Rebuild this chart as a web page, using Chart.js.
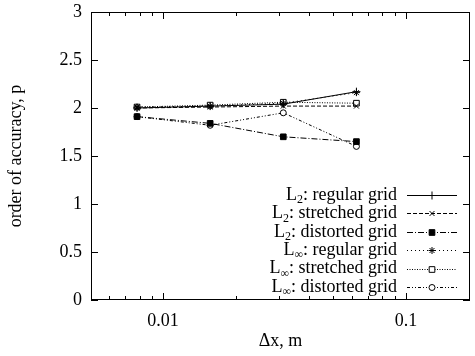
<!DOCTYPE html>
<html>
<head>
<meta charset="utf-8">
<script src="https://cdn.jsdelivr.net/npm/chart.js@4.4.1/dist/chart.umd.min.js"></script>
<style>
  html, body { margin: 0; padding: 0; background: #fff; }
  #wrap { width: 475px; height: 356px; }
</style>
</head>
<body>
<div id="wrap"><canvas id="c"></canvas></div>
<script>
const dx = [0.0078125, 0.015625, 0.03125, 0.0625]

const l2Regular    = [2.00, 2.02, 2.04, 2.17]
const l2Stretched  = [2.00, 2.01, 2.02, 2.02]
const l2Distorted  = [1.91, 1.84, 1.70, 1.65]
const lInfRegular  = [2.01, 2.02, 2.05, 2.16]
const lInfStretch  = [2.01, 2.03, 2.06, 2.05]
const lInfDistort  = [1.91, 1.82, 1.95, 1.60]

const xTicks = [0.01, 0.1]
const xMinor = [0.006, 0.007, 0.008, 0.009, 0.02, 0.03, 0.04, 0.05, 0.06, 0.07, 0.08, 0.09]
const yTicks = [0, 0.5, 1, 1.5, 2, 2.5, 3]

const FONT = 'Liberation Serif'

const pts = ys => dx.map((x, i) => ({ x: x, y: ys[i] }))
const noPad = s => { s.paddingLeft = 0; s.paddingRight = 0; s.paddingTop = 0; s.paddingBottom = 0 }

const SERIES = [
  { sub: '2', label: ': regular grid',   data: l2Regular,   dash: [],                 point: 'cross',    fill: '#000', r: 4 },
  { sub: '2', label: ': stretched grid', data: l2Stretched, dash: [4, 2],             point: 'crossRot', fill: '#000', r: 3.5 },
  { sub: '2', label: ': distorted grid', data: l2Distorted, dash: [6, 2, 1, 2],       point: 'rect',     fill: '#000', r: 4 },
  { sub: '∞', label: ': regular grid',   data: lInfRegular, dash: [1, 3],             point: 'star',     fill: '#000', r: 3.5 },
  { sub: '∞', label: ': stretched grid', data: lInfStretch, dash: [1, 1.5],           point: 'rect',     fill: '#fff', r: 4 },
  { sub: '∞', label: ': distorted grid', data: lInfDistort, dash: [3, 2, 1, 2, 1, 2], point: 'circle',   fill: '#fff', r: 3 }
]

// gnuplot style frame + inward ticks
const frameTicks = {
  id: 'frameTicks',
  afterDraw(chart) {
    const { ctx, chartArea: a, scales: { x, y } } = chart
    ctx.save()
    ctx.strokeStyle = '#000'
    ctx.lineWidth = 1
    ctx.strokeRect(a.left + 0.5, a.top + 0.5, a.right - a.left - 1, a.bottom - a.top - 1)
    ctx.beginPath()
    yTicks.forEach(v => {
      const py = Math.round(y.getPixelForValue(v)) + 0.5
      ctx.moveTo(a.left, py); ctx.lineTo(a.left + 7, py)
      ctx.moveTo(a.right, py); ctx.lineTo(a.right - 7, py)
    })
    xTicks.forEach(v => {
      const px = Math.round(x.getPixelForValue(v)) + 0.5
      ctx.moveTo(px, a.bottom); ctx.lineTo(px, a.bottom - 7)
      ctx.moveTo(px, a.top); ctx.lineTo(px, a.top + 7)
    })
    xMinor.forEach(v => {
      const px = Math.round(x.getPixelForValue(v)) + 0.5
      ctx.moveTo(px, a.bottom); ctx.lineTo(px, a.bottom - 4)
      ctx.moveTo(px, a.top); ctx.lineTo(px, a.top + 4)
    })
    ctx.stroke()
    ctx.restore()
  }
}

// legend drawn the way gnuplot does: text right aligned, sample on the right
const keyBox = {
  id: 'keyBox',
  afterDatasetsDraw(chart) {
    const ctx = chart.ctx
    const textRight = 397, x0 = 407, x1 = 457, top = 195, step = 18.4
    ctx.save()
    SERIES.forEach((s, i) => {
      const cy = top + i * step
      ctx.font = '18px "' + FONT + '"'
      const wL = ctx.measureText('L').width
      const wR = ctx.measureText(s.label).width
      ctx.font = '12px "' + FONT + '"'
      const wS = ctx.measureText(s.sub).width
      let px = textRight - wL - wS - wR
      ctx.fillStyle = '#000'
      ctx.textBaseline = 'middle'
      ctx.textAlign = 'left'
      ctx.font = '18px "' + FONT + '"'
      ctx.fillText('L', px, cy)
      px += wL
      ctx.font = '12px "' + FONT + '"'
      ctx.fillText(s.sub, px, cy + 5)
      px += wS
      ctx.font = '18px "' + FONT + '"'
      ctx.fillText(s.label, px, cy)

      const ly = Math.round(cy) + 0.5
      ctx.strokeStyle = '#000'
      ctx.lineWidth = 1
      ctx.setLineDash(s.dash)
      ctx.beginPath()
      ctx.moveTo(x0, ly)
      ctx.lineTo(x1, ly)
      ctx.stroke()
      ctx.setLineDash([])
      ctx.fillStyle = s.fill
      Chart.helpers.drawPoint(ctx, { pointStyle: s.point, radius: s.r, borderWidth: 1, rotation: 0 }, (x0 + x1) / 2, ly)
    })
    ctx.restore()
  }
}

new Chart(document.getElementById('c'), {
  type: 'scatter',
  data: {
    datasets: SERIES.map(s => ({
      label: 'L' + s.sub + s.label,
      data: pts(s.data),
      showLine: true,
      borderColor: '#000',
      borderWidth: 1,
      borderDash: s.dash,
      pointStyle: s.point,
      pointRadius: s.r,
      pointBackgroundColor: s.fill,
      pointBorderColor: '#000',
      pointBorderWidth: 1,
      fill: false,
      tension: 0
    }))
  },
  options: {
    responsive: true,
    maintainAspectRatio: false,
    animation: false,
    layout: { padding: { top: 12, right: 1, left: 0, bottom: 0 } },
    plugins: { legend: { display: false }, tooltip: { enabled: false } },
    scales: {
      x: {
        type: 'logarithmic',
        min: 0.00505,
        max: 0.1834,
        grid: { display: false, drawTicks: false },
        border: { display: false },
        afterBuildTicks: s => { s.ticks = xTicks.map(v => ({ value: v })) },
        afterFit: s => { s.height = 56; noPad(s) },
        ticks: {
          color: '#000',
          padding: 10,
          font: { family: FONT, size: 18 },
          autoSkip: false,
          maxRotation: 0,
          callback: v => String(v)
        },
        title: {
          display: true,
          text: 'Δx, m',
          color: '#000',
          font: { family: FONT, size: 18 },
          padding: { top: 0, bottom: 4 }
        }
      },
      y: {
        min: 0,
        max: 3,
        grid: { display: false, drawTicks: false },
        border: { display: false },
        afterBuildTicks: s => { s.ticks = yTicks.map(v => ({ value: v })) },
        afterFit: s => { s.width = 91; noPad(s) },
        ticks: {
          color: '#000',
          padding: 9,
          font: { family: FONT, size: 18 },
          callback: v => String(v)
        },
        title: {
          display: true,
          text: 'order of accuracy, p',
          color: '#000',
          font: { family: FONT, size: 18 },
          padding: { top: 5, bottom: 0 }
        }
      }
    }
  },
  plugins: [frameTicks, keyBox]
})
</script>
</body>
</html>
